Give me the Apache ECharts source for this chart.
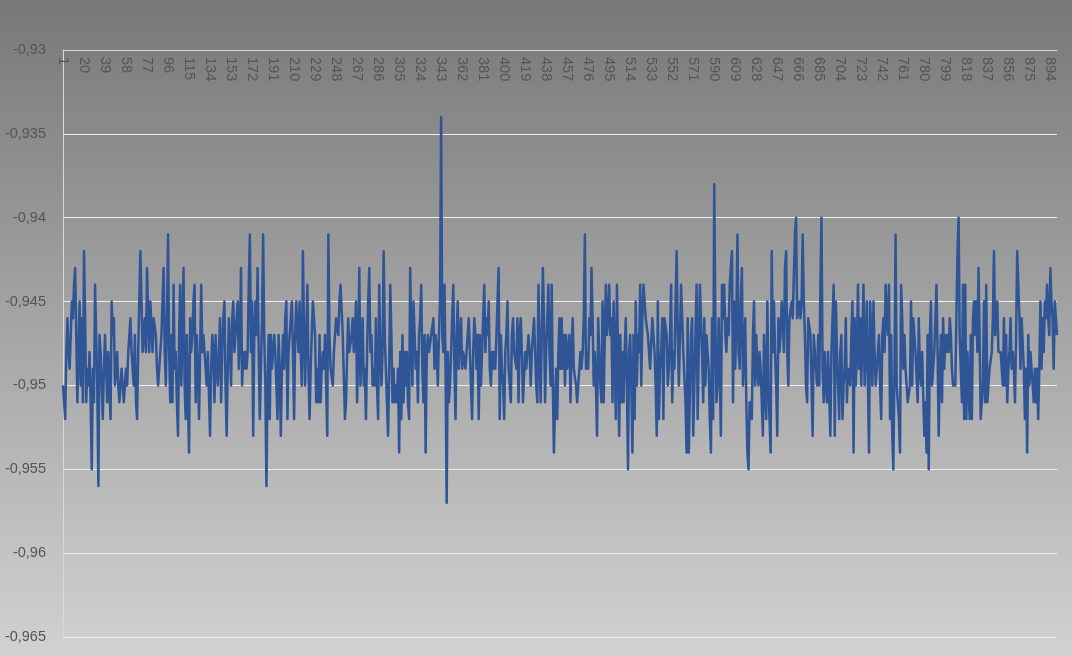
<!DOCTYPE html>
<html>
<head>
<meta charset="utf-8">
<script src="https://cdn.jsdelivr.net/npm/echarts@6/dist/echarts.min.js"></script>
<style>
  html, body { margin: 0; padding: 0; }
  #chart { width: 1072px; height: 656px; background: linear-gradient(to bottom, #787878 0%, #a5a5a5 50%, #d1d1d1 100%); }
</style>
</head>
<body>
<div id="chart"></div>
<script>
// Series values in 12 segments of 75 points each
const seg1 = [-0.950,-0.951,-0.952,-0.948,-0.946,-0.948,-0.949,-0.947,-0.945,-0.946,
-0.944,-0.943,-0.947,-0.951,-0.948,-0.945,-0.950,-0.946,-0.951,-0.942,
-0.946,-0.951,-0.949,-0.950,-0.948,-0.951,-0.955,-0.949,-0.951,-0.944,
-0.944,-0.950,-0.956,-0.947,-0.948,-0.950,-0.952,-0.949,-0.947,-0.949,
-0.951,-0.948,-0.950,-0.952,-0.945,-0.947,-0.946,-0.950,-0.949,-0.948,
-0.950,-0.951,-0.950,-0.949,-0.950,-0.951,-0.951,-0.949,-0.950,-0.948,
-0.947,-0.946,-0.948,-0.949,-0.950,-0.947,-0.951,-0.952,-0.948,-0.945,
-0.942,-0.945,-0.948,-0.947,-0.946];
const seg2 = [-0.948,-0.943,-0.946,-0.948,-0.945,-0.945,-0.948,-0.946,-0.946,-0.947,
-0.949,-0.950,-0.950,-0.948,-0.947,-0.945,-0.943,-0.948,-0.950,-0.946,
-0.941,-0.948,-0.951,-0.947,-0.951,-0.944,-0.949,-0.948,-0.951,-0.953,
-0.947,-0.944,-0.950,-0.947,-0.943,-0.950,-0.952,-0.947,-0.951,-0.954,
-0.946,-0.948,-0.947,-0.945,-0.944,-0.951,-0.947,-0.949,-0.952,-0.948,
-0.944,-0.948,-0.947,-0.947,-0.949,-0.950,-0.948,-0.948,-0.953,-0.949,
-0.947,-0.948,-0.951,-0.947,-0.949,-0.950,-0.948,-0.946,-0.951,-0.948,
-0.946,-0.945,-0.950,-0.953,-0.949];
const seg3 = [-0.946,-0.948,-0.950,-0.946,-0.945,-0.948,-0.947,-0.946,-0.945,-0.949,
-0.947,-0.943,-0.950,-0.948,-0.949,-0.948,-0.949,-0.948,-0.944,-0.941,
-0.948,-0.945,-0.953,-0.947,-0.945,-0.947,-0.943,-0.948,-0.952,-0.949,
-0.946,-0.941,-0.947,-0.950,-0.956,-0.950,-0.947,-0.952,-0.947,-0.949,
-0.949,-0.947,-0.948,-0.950,-0.952,-0.947,-0.949,-0.953,-0.949,-0.947,
-0.949,-0.946,-0.945,-0.952,-0.948,-0.947,-0.946,-0.945,-0.948,-0.952,
-0.947,-0.945,-0.947,-0.948,-0.945,-0.948,-0.950,-0.942,-0.947,-0.950,
-0.947,-0.944,-0.949,-0.952,-0.949];
const seg4 = [-0.947,-0.945,-0.945,-0.947,-0.951,-0.949,-0.951,-0.947,-0.951,-0.949,
-0.948,-0.949,-0.947,-0.950,-0.953,-0.941,-0.947,-0.949,-0.949,-0.950,
-0.948,-0.947,-0.946,-0.946,-0.947,-0.945,-0.944,-0.944,-0.947,-0.947,
-0.952,-0.951,-0.948,-0.946,-0.948,-0.948,-0.947,-0.946,-0.948,-0.947,
-0.945,-0.951,-0.948,-0.943,-0.950,-0.948,-0.946,-0.950,-0.949,-0.952,
-0.948,-0.945,-0.943,-0.948,-0.947,-0.950,-0.949,-0.950,-0.946,-0.950,
-0.952,-0.944,-0.948,-0.950,-0.948,-0.942,-0.947,-0.949,-0.951,-0.953,
-0.949,-0.944,-0.947,-0.951,-0.949];
const seg5 = [-0.951,-0.950,-0.951,-0.949,-0.954,-0.948,-0.952,-0.947,-0.951,-0.948,
-0.950,-0.948,-0.951,-0.952,-0.943,-0.947,-0.950,-0.945,-0.947,-0.949,
-0.948,-0.951,-0.947,-0.946,-0.944,-0.949,-0.951,-0.947,-0.954,-0.948,
-0.947,-0.948,-0.948,-0.947,-0.947,-0.946,-0.949,-0.947,-0.948,-0.950,
-0.947,-0.945,-0.934,-0.947,-0.948,-0.944,-0.949,-0.957,-0.948,-0.951,
-0.950,-0.948,-0.946,-0.944,-0.949,-0.952,-0.947,-0.945,-0.949,-0.947,
-0.946,-0.949,-0.948,-0.948,-0.949,-0.948,-0.948,-0.946,-0.948,-0.950,
-0.952,-0.948,-0.946,-0.947,-0.949];
const seg6 = [-0.947,-0.952,-0.947,-0.950,-0.948,-0.946,-0.944,-0.948,-0.946,-0.947,
-0.945,-0.949,-0.950,-0.948,-0.949,-0.948,-0.949,-0.947,-0.945,-0.943,
-0.952,-0.947,-0.949,-0.950,-0.952,-0.948,-0.947,-0.945,-0.949,-0.950,
-0.951,-0.947,-0.946,-0.948,-0.948,-0.949,-0.946,-0.951,-0.947,-0.946,
-0.948,-0.951,-0.951,-0.948,-0.949,-0.949,-0.947,-0.948,-0.950,-0.948,
-0.947,-0.946,-0.948,-0.950,-0.951,-0.944,-0.948,-0.951,-0.947,-0.943,
-0.946,-0.951,-0.948,-0.946,-0.944,-0.948,-0.950,-0.944,-0.950,-0.954,
-0.951,-0.949,-0.952,-0.948,-0.946];
const seg7 = [-0.949,-0.946,-0.949,-0.947,-0.950,-0.947,-0.949,-0.948,-0.947,-0.951,
-0.948,-0.946,-0.949,-0.949,-0.950,-0.951,-0.951,-0.949,-0.948,-0.949,
-0.948,-0.946,-0.941,-0.949,-0.948,-0.949,-0.946,-0.947,-0.943,-0.946,
-0.950,-0.948,-0.950,-0.953,-0.946,-0.948,-0.950,-0.951,-0.945,-0.951,
-0.947,-0.944,-0.947,-0.946,-0.944,-0.947,-0.946,-0.951,-0.945,-0.948,
-0.952,-0.944,-0.948,-0.953,-0.947,-0.951,-0.948,-0.951,-0.948,-0.946,
-0.950,-0.955,-0.948,-0.947,-0.950,-0.954,-0.947,-0.952,-0.945,-0.950,
-0.947,-0.948,-0.944,-0.950,-0.946];
const seg8 = [-0.944,-0.944,-0.946,-0.946,-0.947,-0.948,-0.949,-0.949,-0.946,-0.946,
-0.948,-0.950,-0.953,-0.945,-0.952,-0.949,-0.948,-0.946,-0.952,-0.946,
-0.946,-0.947,-0.950,-0.949,-0.947,-0.944,-0.951,-0.948,-0.949,-0.945,
-0.942,-0.947,-0.950,-0.947,-0.944,-0.946,-0.948,-0.948,-0.951,-0.954,
-0.946,-0.954,-0.954,-0.947,-0.946,-0.953,-0.950,-0.947,-0.944,-0.952,
-0.952,-0.944,-0.946,-0.948,-0.951,-0.946,-0.950,-0.947,-0.948,-0.949,
-0.952,-0.954,-0.946,-0.952,-0.938,-0.946,-0.951,-0.950,-0.946,-0.949,
-0.953,-0.944,-0.946,-0.944,-0.947];
const seg9 = [-0.948,-0.946,-0.947,-0.944,-0.944,-0.942,-0.951,-0.945,-0.949,-0.946,
-0.941,-0.948,-0.949,-0.945,-0.943,-0.950,-0.950,-0.946,-0.951,-0.954,
-0.955,-0.951,-0.951,-0.952,-0.947,-0.945,-0.950,-0.947,-0.949,-0.950,
-0.948,-0.949,-0.951,-0.953,-0.947,-0.950,-0.952,-0.945,-0.950,-0.952,
-0.954,-0.942,-0.948,-0.945,-0.948,-0.950,-0.953,-0.946,-0.948,-0.947,
-0.945,-0.946,-0.948,-0.943,-0.942,-0.948,-0.950,-0.946,-0.946,-0.945,
-0.946,-0.946,-0.941,-0.940,-0.946,-0.946,-0.945,-0.946,-0.945,-0.941,
-0.945,-0.947,-0.950,-0.951,-0.946];
const seg10 = [-0.946,-0.947,-0.950,-0.953,-0.947,-0.948,-0.949,-0.950,-0.947,-0.950,
-0.944,-0.940,-0.949,-0.951,-0.948,-0.950,-0.951,-0.948,-0.948,-0.953,
-0.948,-0.948,-0.944,-0.953,-0.945,-0.948,-0.950,-0.952,-0.948,-0.947,
-0.952,-0.950,-0.949,-0.946,-0.951,-0.949,-0.949,-0.950,-0.947,-0.945,
-0.954,-0.946,-0.950,-0.948,-0.944,-0.949,-0.946,-0.950,-0.947,-0.944,
-0.950,-0.948,-0.945,-0.950,-0.954,-0.945,-0.947,-0.950,-0.945,-0.948,
-0.950,-0.949,-0.948,-0.947,-0.950,-0.952,-0.947,-0.946,-0.948,-0.944,
-0.946,-0.947,-0.944,-0.952,-0.947];
const seg11 = [-0.953,-0.955,-0.949,-0.941,-0.950,-0.951,-0.952,-0.954,-0.944,-0.946,
-0.949,-0.947,-0.949,-0.950,-0.951,-0.951,-0.950,-0.945,-0.950,-0.946,
-0.946,-0.948,-0.948,-0.951,-0.946,-0.949,-0.950,-0.948,-0.948,-0.953,
-0.951,-0.954,-0.947,-0.955,-0.947,-0.945,-0.950,-0.949,-0.948,-0.946,
-0.944,-0.948,-0.953,-0.949,-0.947,-0.951,-0.946,-0.949,-0.947,-0.948,
-0.947,-0.948,-0.946,-0.947,-0.949,-0.950,-0.950,-0.950,-0.950,-0.942,
-0.940,-0.947,-0.947,-0.951,-0.944,-0.952,-0.944,-0.952,-0.948,-0.950,
-0.952,-0.947,-0.952,-0.946,-0.945];
const seg12 = [-0.947,-0.945,-0.948,-0.943,-0.947,-0.952,-0.951,-0.950,-0.945,-0.951,
-0.944,-0.951,-0.951,-0.949,-0.949,-0.948,-0.946,-0.942,-0.947,-0.947,
-0.945,-0.948,-0.948,-0.948,-0.949,-0.950,-0.946,-0.950,-0.947,-0.951,
-0.949,-0.948,-0.946,-0.949,-0.948,-0.949,-0.951,-0.947,-0.942,-0.942,
-0.946,-0.949,-0.946,-0.946,-0.949,-0.952,-0.949,-0.954,-0.947,-0.950,
-0.948,-0.949,-0.950,-0.951,-0.949,-0.951,-0.949,-0.952,-0.949,-0.945,
-0.949,-0.946,-0.948,-0.945,-0.946,-0.944,-0.946,-0.947,-0.943,-0.945,
-0.946,-0.949,-0.945,-0.946,-0.947];

const values = [].concat(seg1, seg2, seg3, seg4, seg5, seg6, seg7, seg8, seg9, seg10, seg11, seg12);
// Category labels: point numbers 1..N
const categories = values.map((v, i) => String(i + 1));
// Value-axis tick labels (comma decimal separator)
const yTickValues = [-0.965, -0.96, -0.955, -0.95, -0.945, -0.94, -0.935, -0.93];
const yTickLabels = ['-0,965', '-0,96', '-0,955', '-0,95', '-0,945', '-0,94', '-0,935', '-0,93'];

const FONT = "'Liberation Sans', Arial, sans-serif";
const chart = echarts.init(document.getElementById('chart'), null, { renderer: 'canvas' });
chart.setOption({
  animation: false,
  backgroundColor: 'transparent',
  grid: { left: 63, right: 15, top: 50, bottom: 19, containLabel: false },
  xAxis: {
    type: 'category',
    data: categories,
    position: 'top',
    boundaryGap: false,
    axisLine: { show: true, onZero: false, lineStyle: { color: '#d9d9d9', width: 1 } },
    axisTick: { show: false },
    axisLabel: {
      inside: true, rotate: 90, interval: 18, margin: 7,
      color: '#555555', fontSize: 14.5, fontFamily: FONT
    },
    splitLine: { show: false }
  },
  yAxis: {
    type: 'value',
    min: -0.965, max: -0.93, interval: 0.005,
    axisLine: { show: true, lineStyle: { color: '#d9d9d9', width: 1 } },
    axisTick: { show: false },
    axisLabel: {
      margin: 17, color: '#555555', fontSize: 14.5, fontFamily: FONT,
      formatter: function (v) {
        for (let k = 0; k < yTickValues.length; k++) {
          if (Math.abs(yTickValues[k] - v) < 1e-9) return yTickLabels[k];
        }
        return '';
      }
    },
    splitLine: { show: true, lineStyle: { color: '#eeeeee', width: 1 } }
  },
  series: [{
    type: 'line',
    data: values,
    symbol: 'none',
    showSymbol: false,
    lineStyle: { color: '#2f5597', width: 2.5, join: 'round' },
    emphasis: { disabled: true }
  }]
});
</script>
</body>
</html>
